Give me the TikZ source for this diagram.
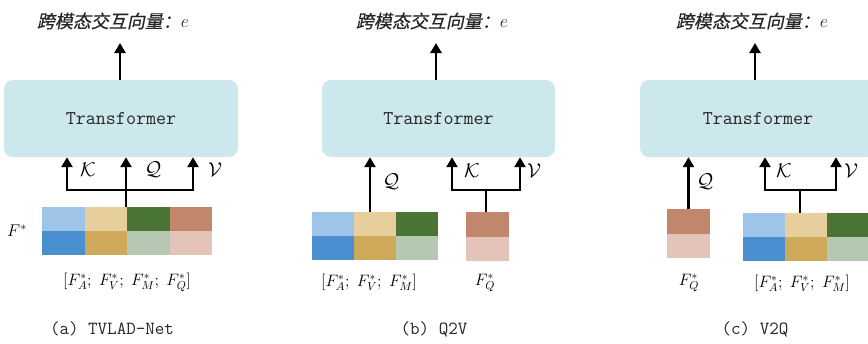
\documentclass[tikz,border=0pt]{standalone}
\usepackage{fix-cm}
\usepackage{fontspec}
\newfontfamily\cjk[FakeSlant=0.2,FakeBold=0.6]{Noto Sans CJK SC}
\usetikzlibrary{arrows.meta}
\definecolor{ca}{HTML}{9EC5E8}
\definecolor{cb}{HTML}{E6CF9C}
\definecolor{cc}{HTML}{4B7535}
\definecolor{cd}{HTML}{C1876C}
\definecolor{ce}{HTML}{4A8FCF}
\definecolor{cf}{HTML}{CFA95A}
\definecolor{cg}{HTML}{B5C8B2}
\definecolor{ch}{HTML}{E4C4B8}
\definecolor{boxc}{HTML}{CDE8EC}
\definecolor{txt}{HTML}{262626}
\tikzset{
  tbox/.style={fill=boxc, rounded corners=9pt, minimum height=77pt, inner sep=0pt,
    font=\ttfamily\addfontfeature{FakeBold=0.5}\fontsize{19.5}{22}\selectfont, text=txt},
  titlelab/.style={font=\cjk\fontsize{18}{21}\selectfont, text=txt, inner sep=0pt},
  cell/.style={minimum width=42.5pt, minimum height=24.3pt, inner sep=0pt, outer sep=0pt},
  arr/.style={line width=2.5pt, -{Triangle[length=10pt,width=11pt]}},
  ln/.style={line width=2.5pt},
  mlab/.style={font=\fontsize{20}{22}\selectfont, inner sep=0pt},
  flab/.style={font=\fontsize{17}{19}\selectfont, inner sep=0pt},
  blab/.style={font=\fontsize{16.5}{19}\selectfont, inner sep=0pt},
  caplab/.style={font=\ttfamily\addfontfeature{FakeBold=0.5}\fontsize{18.5}{22}\selectfont, text=txt, inner sep=0pt}
}
\begin{document}
\begin{tikzpicture}[x=1pt,y=-1pt]
\useasboundingbox (0,0) rectangle (868,343);
\clip (0,0) rectangle (868,343);

% ---------------- (a) ----------------
\node[tbox, minimum width=234pt] (ta) at (121,118.5) {Transformer};
\node[titlelab] (tta) at (113,21) {跨模态交互向量：$e$};
\coordinate (ea) at (120,43);
\draw[arr] (ea |- ta.north) -- (ea);

\node[cell, fill=ca] (a11) at (63.25,219) {};
\node[cell, fill=cb] (a12) at (105.75,219) {};
\node[cell, fill=cc] (a13) at (148.25,219) {};
\node[cell, fill=cd] (a14) at (190.75,219) {};
\node[cell, fill=ce] (a21) at (63.25,243.3) {};
\node[cell, fill=cf] (a22) at (105.75,243.3) {};
\node[cell, fill=cg] (a23) at (148.25,243.3) {};
\node[cell, fill=ch] (a24) at (190.75,243.3) {};

\coordinate (ja) at (126,190);
\coordinate (ka) at (67,190);
\coordinate (va) at (193,190);
\draw[arr] (ja) -| (ka |- ta.south);
\draw[arr] (ja) -| (va |- ta.south);
\draw[arr] (ja |- a13.north) -- (ja |- ta.south);

\node[mlab] (lka) at (88,170) {$\mathcal{K}$};
\node[mlab] (lqa) at (153,170) {$\mathcal{Q}$};
\node[mlab] (lva) at (215,170) {$\mathcal{V}$};
\node[flab] (fa) at (17,231) {$F^{*}$};
\node[blab] (ba) at (127,282) {$[F^{*}_{A};\;F^{*}_{V};\;F^{*}_{M};\;F^{*}_{Q}]$};
\node[caplab] (capa) at (112,329) {(a) TVLAD-Net};

% ---------------- (b) ----------------
\node[tbox, minimum width=233pt] (tb) at (438.5,118.5) {Transformer};
\node[titlelab] (ttb) at (432,21) {跨模态交互向量：$e$};
\coordinate (eb) at (436,43);
\draw[arr] (eb |- tb.north) -- (eb);

\node[cell, fill=ca] (b11) at (333,224) {};
\node[cell, fill=cb] (b12) at (375,224) {};
\node[cell, fill=cc] (b13) at (417,224) {};
\node[cell, fill=ce] (b21) at (333,248.3) {};
\node[cell, fill=cf] (b22) at (375,248.3) {};
\node[cell, fill=cg] (b23) at (417,248.3) {};
\node[cell, fill=cd] (bq1) at (487.5,224.5) {};
\node[cell, fill=ch] (bq2) at (487.5,248.8) {};

\coordinate (qb) at (370,200);
\draw[arr] (qb |- b12.north) -- (qb |- tb.south);
\coordinate (jb) at (486,190);
\coordinate (kb) at (452,190);
\coordinate (vb) at (520,190);
\draw[arr] (jb) -| (kb |- tb.south);
\draw[arr] (jb) -| (vb |- tb.south);
\draw[ln] (jb |- bq1.north) -- (jb);

\node[mlab] (lqb) at (391,182) {$\mathcal{Q}$};
\node[mlab] (lkb) at (472,171) {$\mathcal{K}$};
\node[mlab] (lvb) at (534,171) {$\mathcal{V}$};
\node[blab] (bb) at (369,282) {$[F^{*}_{A};\;F^{*}_{V};\;F^{*}_{M}]$};
\node[blab] (fqb) at (485,283) {$F^{*}_{Q}$};
\node[caplab] (capb) at (434,329) {(b) Q2V};

% ---------------- (c) ----------------
\node[tbox, minimum width=236pt] (tc) at (758,118.5) {Transformer};
\node[titlelab] (ttc) at (752,21) {跨模态交互向量：$e$};
\coordinate (ec) at (755,43);
\draw[arr] (ec |- tc.north) -- (ec);

\node[cell, fill=cd] (cq1) at (688.5,221.5) {};
\node[cell, fill=ch] (cq2) at (688.5,245.8) {};
\node[cell, fill=ca] (c11) at (764,225) {};
\node[cell, fill=cb] (c12) at (806,225) {};
\node[cell, fill=cc] (c13) at (848,225) {};
\node[cell, fill=ce] (c21) at (764,249.3) {};
\node[cell, fill=cf] (c22) at (806,249.3) {};
\node[cell, fill=cg] (c23) at (848,249.3) {};

\draw[arr] (cq1.north) -- (cq1.north |- tc.south);
\coordinate (jc) at (800,190);
\coordinate (kc) at (765,190);
\coordinate (vc) at (836,190);
\draw[arr] (jc) -| (kc |- tc.south);
\draw[arr] (jc) -| (vc |- tc.south);
\draw[ln] (jc |- c12.north) -- (jc);

\node[mlab] (lqc) at (705,182) {$\mathcal{Q}$};
\node[mlab] (lkc) at (784,171) {$\mathcal{K}$};
\node[mlab] (lvc) at (851,171) {$\mathcal{V}$};
\node[blab] (fqc) at (689,283) {$F^{*}_{Q}$};
\node[blab] (bc) at (802,283) {$[F^{*}_{A};\;F^{*}_{V};\;F^{*}_{M}]$};
\node[caplab] (capc) at (755,329) {(c) V2Q};
\end{tikzpicture}
\end{document}
